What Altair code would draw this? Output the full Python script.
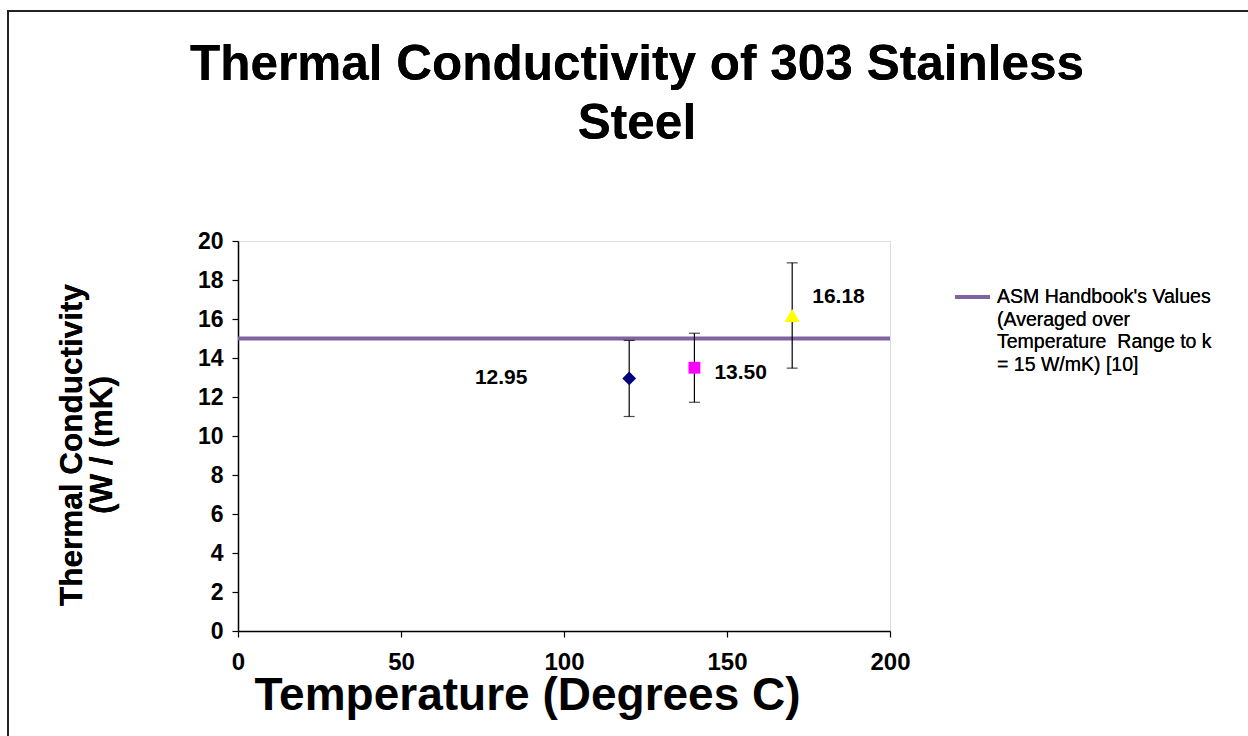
import altair as alt
import pandas as pd

# Measured thermal conductivity at three test temperatures
temps = [120, 140, 170]
k_values = [12.95, 13.50, 16.18]
k_err = [1.95, 1.77, 2.70]
series = ["Test 1", "Test 2", "Test 3"]
shapes = ["diamond", "square", "triangle-up"]
colors = ["#000080", "#FF00FF", "#FFFF00"]
marker_sizes = [190, 140, 230]

# Handbook reference value, averaged over the temperature range
ref_x = [0, 200]
ref_k = 15

x_ticks = [0, 50, 100, 150, 200]
y_ticks = list(range(0, 21, 2))

FONT = "Arial, Liberation Sans, sans-serif"
W, H = 652, 390
LEFT, TOP = 238, 241
PAD = {"left": LEFT, "top": TOP, "right": 1248 - LEFT - W, "bottom": 736 - TOP - H}

pts = pd.DataFrame({
    "T": temps, "k": k_values,
    "lo": [k - e for k, e in zip(k_values, k_err)],
    "hi": [k + e for k, e in zip(k_values, k_err)],
    "series": series,
    "label": [f"{v:.2f}" for v in k_values],
})
ref = pd.DataFrame({"T": ref_x, "k": [ref_k] * len(ref_x)})

xs = alt.Scale(domain=[0, 200], nice=False)
ys = alt.Scale(domain=[0, 20], nice=False)

x_axis = alt.Axis(
    values=x_ticks, grid=False, domainColor="black", domainWidth=1.5,
    tickColor="black", tickSize=6, tickWidth=1.2,
    labelFont=FONT, labelFontSize=24, labelFontWeight="bold", labelColor="black",
    labelPadding=13, labelFlush=False, labelOverlap=False,
    title="Temperature (Degrees C)", titleFont=FONT, titleFontSize=46,
    titleFontWeight="bold", titleColor="black",
    titleX=289, titleY=64, titleBaseline="middle", titleAlign="center",
)
y_axis = alt.Axis(
    values=y_ticks, grid=False, domainColor="black", domainWidth=1.5,
    tickColor="black", tickSize=6, tickWidth=1.2,
    labelFont=FONT, labelFontSize=23, labelFontWeight="bold", labelColor="black",
    labelPadding=9, labelOverlap=False, labelFlush=False, title="",
)

X = alt.X("T:Q", scale=xs, axis=x_axis)


def Y(field):
    return alt.Y(field, scale=ys, axis=y_axis)


ref_line = alt.Chart(ref).mark_line(color="#8064A2", strokeWidth=4).encode(x=X, y=Y("k:Q"))

err = alt.Chart(pts).mark_errorbar(
    ticks=alt.TickConfig(size=11, color="black", thickness=1.2),
    color="black", thickness=1.2,
).encode(x=X, y=Y("lo:Q"), y2="hi:Q")


def marker(name, shape, color, size):
    return alt.Chart(pts).transform_filter(alt.datum.series == name).mark_point(
        filled=True, opacity=1, strokeWidth=0, shape=shape, color=color, size=size
    ).encode(x=X, y=Y("k:Q"))


points = alt.layer(*[marker(n, s, c, z) for n, s, c, z in zip(series, shapes, colors, marker_sizes)])


def value_label(name, **kw):
    return alt.Chart(pts).transform_filter(alt.datum.series == name).mark_text(
        font=FONT, fontSize=21, fontWeight="bold", color="black", baseline="middle", **kw
    ).encode(x=X, y=Y("k:Q"), text="label:N")


labels = (
    value_label("Test 1", align="center", dx=-128, dy=0)
    + value_label("Test 2", align="left", dx=20, dy=5)
    + value_label("Test 3", align="left", dx=20, dy=-18)
)

# Y-axis title, two rotated lines
y_title = alt.Chart(ref).mark_text(
    font=FONT, fontSize=31.5, fontWeight="bold", color="black", align="center",
    baseline="middle", angle=270, lineHeight=30,
).encode(
    x=alt.value(73 - LEFT), y=alt.value(445 - TOP),
    text=alt.value(["Thermal Conductivity", "(W / (mK)"]),
)

# Legend entry for the handbook line
leg_line = alt.Chart(ref).mark_rule(color="#8064A2", strokeWidth=4).encode(
    x=alt.value(955 - LEFT), x2=alt.value(990 - LEFT), y=alt.value(297 - TOP)
)
leg_text = alt.Chart(ref).mark_text(
    font=FONT, fontSize=19.5, color="black", align="left", baseline="middle", lineHeight=22.5
).encode(
    x=alt.value(997 - LEFT), y=alt.value(297 - TOP),
    text=alt.value(["ASM Handbook's Values", "(Averaged over",
                    "Temperature\u00a0 Range to k", "= 15 W/mK) [10]"]),
)

# Chart title, two centred lines
title = alt.Chart(ref).mark_text(
    font=FONT, fontSize=49.5, fontWeight="bold", color="black", align="center",
    baseline="middle", lineHeight=59,
).encode(
    x=alt.value(637 - LEFT), y=alt.value(65 - TOP),
    text=alt.value(["Thermal Conductivity of 303 Stainless", "Steel"]),
)

# Outer frame around the whole figure
frame = alt.Chart(ref).mark_rect(fill=None, stroke="#222222", strokeWidth=2).encode(
    x=alt.value(8 - LEFT), y=alt.value(11 - TOP),
    x2=alt.value(1248 - LEFT + 20), y2=alt.value(736 - TOP + 20),
)

chart = alt.layer(
    frame, ref_line, err, points, labels, y_title, leg_line, leg_text, title
).properties(
    width=W, height=H, padding=PAD, autosize=alt.AutoSizeParams(type="none"),
).configure_view(stroke="#969696", strokeWidth=2).configure(background="white")

chart.save("out.html", embed_options={"renderer": "svg", "actions": False})
